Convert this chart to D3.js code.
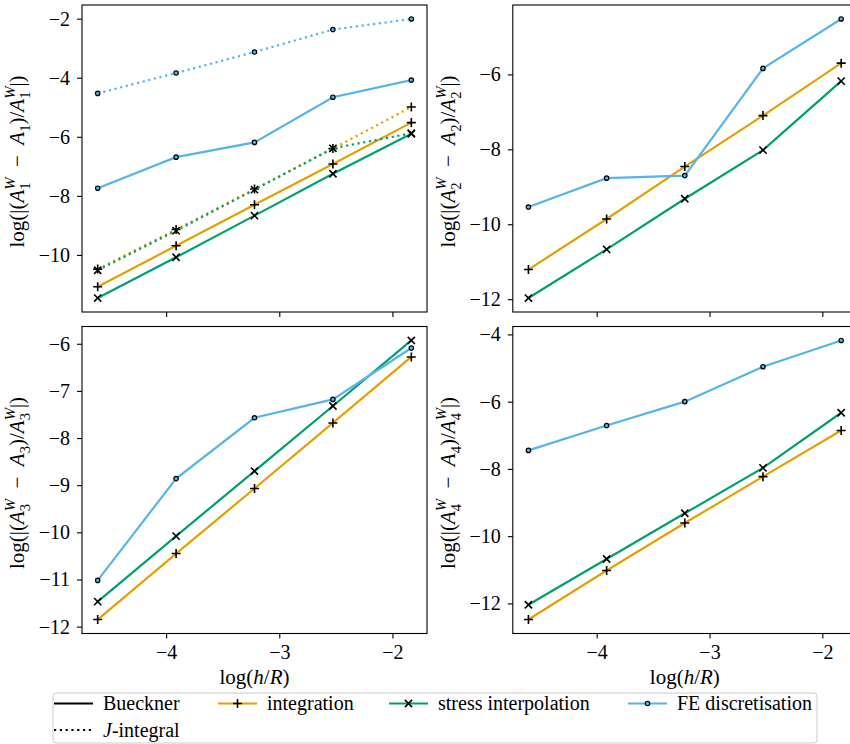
<!DOCTYPE html>
<html>
<head>
<meta charset="utf-8">
<script src="https://cdn.jsdelivr.net/npm/d3@7"></script>
</head>
<body style="margin:0;background:#fff">
<svg id="chart" width="850" height="744" style="font-family:'Liberation Serif'"></svg>
<script>
// x positions: log(h/R)
var logH = [-4.605, -3.912, -3.219, -2.526, -1.833];

// A1 (Bueckner solid, J-integral dotted)
var a1IntB = [-11.08, -9.69, -8.30, -6.92, -5.52];
var a1IntJ = [-10.48, -9.14, -7.77, -6.40, -4.99];
var a1StrB = [-11.46, -10.08, -8.67, -7.25, -5.90];
var a1StrJ = [-10.52, -9.18, -7.79, -6.39, -5.88];
var a1FeB  = [-7.74, -6.69, -6.19, -4.66, -4.08];
var a1FeJ  = [-4.53, -3.84, -3.13, -2.37, -2.01];

// A2
var a2IntB = [-11.21, -9.86, -8.46, -7.10, -5.70];
var a2StrB = [-11.97, -10.67, -9.32, -8.02, -6.18];
var a2FeB  = [-9.54, -8.77, -8.70, -5.84, -4.52];

// A3
var a3IntB = [-11.85, -10.45, -9.07, -7.68, -6.28];
var a3StrB = [-11.47, -10.08, -8.70, -7.32, -5.93];
var a3FeB  = [-11.02, -8.86, -7.57, -7.18, -6.09];

// A4
var a4IntB = [-12.48, -11.02, -9.61, -8.23, -6.86];
var a4StrB = [-12.04, -10.68, -9.32, -7.97, -6.33];
var a4FeB  = [-7.45, -6.71, -6.00, -4.96, -4.18];

var xTicks = [-4, -3, -2];
var yTicks1 = [-10, -8, -6, -4, -2];
var yTicks2 = [-12, -10, -8, -6];
var yTicks3 = [-12, -11, -10, -9, -8, -7, -6];
var yTicks4 = [-12, -10, -8, -6, -4];

var methods = ['integration', 'stress interpolation', 'FE discretisation'];
var colors = ['#E69F00', '#009E73', '#56B4E9'];
var markers = ['plus', 'cross', 'dot'];

var svg = d3.select('#chart');
var FONT = '"Liberation Serif"';
var FS = 20;

var panels = [
    { k: 1, ticks: yTicks1, box: [82, 427, 5, 312], xLabels: false,
      series: [[0, a1IntB, 0], [0, a1IntJ, 1], [1, a1StrB, 0], [1, a1StrJ, 1], [2, a1FeB, 0], [2, a1FeJ, 1]] },
    { k: 2, ticks: yTicks2, box: [512.8, 856.8, 5, 312], xLabels: false,
      series: [[0, a2IntB, 0], [1, a2StrB, 0], [2, a2FeB, 0]] },
    { k: 3, ticks: yTicks3, box: [82, 427, 326.5, 633.5], xLabels: true,
      series: [[0, a3IntB, 0], [1, a3StrB, 0], [2, a3FeB, 0]] },
    { k: 4, ticks: yTicks4, box: [512.8, 856.8, 326.5, 633.5], xLabels: true,
      series: [[0, a4IntB, 0], [1, a4StrB, 0], [2, a4FeB, 0]] }
];

// matplotlib-like 5% margins
function padded(ext) {
    var d = (ext[1] - ext[0]) * 0.05;
    return [ext[0] - d, ext[1] + d];
}

// lay out text made of pieces (roman / italic / sup / sub), returns width
function richText(sel, parts, size) {
    var x = 0, lastX = 0, lastW = 0;
    parts.forEach(function(p) {
        var fs = size * (p.small ? 0.7 : 1);
        var px = p.stack ? lastX : x;
        var t = sel.append('text')
            .attr('x', px)
            .attr('y', (p.shift || 0) * size)
            .style('font-family', FONT)
            .style('font-size', fs + 'px')
            .style('font-style', p.it ? 'italic' : 'normal')
            .style('fill', '#000')
            .text(p.t);
        var w = t.node().getComputedTextLength();
        if (p.stack) {
            x = Math.max(lastX + lastW, px + w);
        } else {
            lastX = px;
            x = px + w;
        }
        lastW = w;
    });
    return x;
}

function centeredRich(parent, parts, size, transform) {
    var g = parent.append('g').attr('transform', transform);
    var inner = g.append('g');
    var w = richText(inner, parts, size);
    inner.attr('transform', 'translate(' + (-w / 2) + ',0)');
    return g;
}

function marker(sel, type, color) {
    if (type === 'plus') {
        sel.append('path').attr('d', 'M-4.5,0H4.5M0,-4.5V4.5')
            .attr('stroke', '#000').attr('stroke-width', 1.6).attr('fill', 'none');
    } else if (type === 'cross') {
        sel.append('path').attr('d', 'M-3.6,-3.6L3.6,3.6M-3.6,3.6L3.6,-3.6')
            .attr('stroke', '#000').attr('stroke-width', 1.6).attr('fill', 'none');
    } else {
        sel.append('circle').attr('r', 2.2)
            .attr('fill', color).attr('stroke', '#000').attr('stroke-width', 1.2);
    }
}

var xDomain = padded(d3.extent(logH));

panels.forEach(function(p) {
    var b = p.box;
    var x = d3.scaleLinear().domain(xDomain).range([b[0], b[1]]);
    var all = [];
    p.series.forEach(function(s) { all = all.concat(s[1]); });
    var y = d3.scaleLinear().domain(padded(d3.extent(all))).range([b[3], b[2]]);

    var g = svg.append('g');

    var line = d3.line()
        .x(function(d, i) { return x(logH[i]); })
        .y(function(d) { return y(d); });

    p.series.forEach(function(s) {
        var m = s[0];
        var sg = g.append('g');
        sg.append('path')
            .attr('d', line(s[1]))
            .attr('fill', 'none')
            .attr('stroke', colors[m])
            .attr('stroke-width', 2.2)
            .attr('stroke-dasharray', s[2] ? '2.2,3.6' : null);
        s[1].forEach(function(v, i) {
            var mg = sg.append('g').attr('transform', 'translate(' + x(logH[i]) + ',' + y(v) + ')');
            marker(mg, markers[m], colors[m]);
        });
    });

    // frame
    g.append('rect')
        .attr('x', b[0]).attr('y', b[2])
        .attr('width', b[1] - b[0]).attr('height', b[3] - b[2])
        .attr('fill', 'none').attr('stroke', '#000').attr('stroke-width', 1.1);

    var xAxis = d3.axisBottom(x).tickValues(xTicks).tickSize(5).tickSizeOuter(0).tickPadding(6)
        .tickFormat(p.xLabels ? d3.format('') : function() { return ''; });
    var xa = g.append('g').attr('transform', 'translate(0,' + b[3] + ')').call(xAxis)
        .attr('font-family', null).attr('font-size', null);
    xa.select('.domain').remove();
    xa.selectAll('.tick line').attr('stroke-width', 1.1);
    xa.selectAll('text').style('font-family', FONT).style('font-size', FS + 'px');

    var yAxis = d3.axisLeft(y).tickValues(p.ticks).tickSize(5).tickSizeOuter(0).tickPadding(7)
        .tickFormat(d3.format(''));
    var ya = g.append('g').attr('transform', 'translate(' + b[0] + ',0)').call(yAxis)
        .attr('font-family', null).attr('font-size', null);
    ya.select('.domain').remove();
    ya.selectAll('.tick line').attr('stroke-width', 1.1);
    ya.selectAll('text').style('font-family', FONT).style('font-size', FS + 'px');

    // y label
    var k = String(p.k);
    var yParts = [
        { t: 'log(|(' }, { t: 'A', it: 1 },
        { t: 'W', it: 1, small: 1, shift: -0.42 }, { t: k, small: 1, shift: 0.28, stack: 1 },
        { t: '\u2002\u2212\u2002' }, { t: 'A', it: 1 }, { t: k, small: 1, shift: 0.28 },
        { t: ')/' }, { t: 'A', it: 1 },
        { t: 'W', it: 1, small: 1, shift: -0.42 }, { t: k, small: 1, shift: 0.28, stack: 1 },
        { t: '|)' }
    ];
    var lx = b[0] - 58;
    var ly = (b[2] + b[3]) / 2 + 3;
    centeredRich(g, yParts, 21, 'translate(' + lx + ',' + ly + ') rotate(-90)');

    if (p.xLabels) {
        var xParts = [{ t: 'log(' }, { t: 'h', it: 1 }, { t: '/' }, { t: 'R', it: 1 }, { t: ')' }];
        centeredRich(g, xParts, 21, 'translate(' + ((b[0] + b[1]) / 2) + ',684)');
    }
});

// legend
var lg = svg.append('g');
lg.append('rect')
    .attr('x', 53).attr('y', 693).attr('width', 764).attr('height', 50)
    .attr('rx', 3).attr('fill', '#fff').attr('fill-opacity', 0.8)
    .attr('stroke', '#cccccc').attr('stroke-width', 1);

function legendLine(x0, yy, color, dash) {
    lg.append('line').attr('x1', x0).attr('x2', x0 + 39).attr('y1', yy).attr('y2', yy)
        .attr('stroke', color).attr('stroke-width', 2.2)
        .attr('stroke-dasharray', dash ? '2.2,3.6' : null);
}

var row1 = 703.5, row2 = 730;
legendLine(54, row1, '#000', false);
richText(lg.append('g').attr('transform', 'translate(103,' + (row1 + 6.8) + ')'), [{ t: 'Bueckner' }], FS);
legendLine(54, row2, '#000', true);
richText(lg.append('g').attr('transform', 'translate(103,' + (row2 + 6.8) + ')'), [{ t: 'J', it: 1 }, { t: '-integral' }], FS);

var legendX = [218, 389, 628];
methods.forEach(function(name, m) {
    var x0 = legendX[m];
    legendLine(x0, row1, colors[m], false);
    marker(lg.append('g').attr('transform', 'translate(' + (x0 + 19.5) + ',' + row1 + ')'), markers[m], colors[m]);
    richText(lg.append('g').attr('transform', 'translate(' + (x0 + 49) + ',' + (row1 + 6.8) + ')'), [{ t: name }], FS);
});
</script>
</body>
</html>
